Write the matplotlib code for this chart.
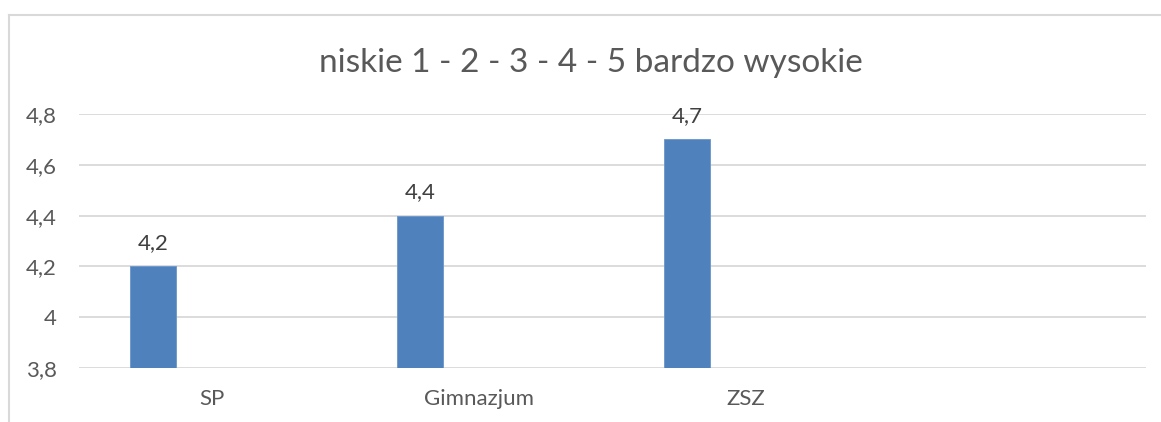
import matplotlib
matplotlib.use("Agg")
import matplotlib.pyplot as plt
from matplotlib.lines import Line2D
from matplotlib.ticker import FuncFormatter
import numpy as np

categories = ["SP", "Gimnazjum", "ZSZ", ""]
values = [4.2, 4.4, 4.7]
title = "niskie 1 - 2 - 3 - 4 - 5 bardzo wysokie"

plt.rcParams['font.family'] = ['Lato', 'DejaVu Sans']

W, H = 1161, 422
fig = plt.figure(figsize=(W / 100, H / 100), dpi=100)
ax = fig.add_axes([79 / W, 1 - 368 / H, (1146 - 79) / W, (368 - 114) / H])

bar_w = 0.172
offset = -0.221
x = np.arange(len(values)) + offset
bars = ax.bar(x, values, width=bar_w, bottom=0, color="#4F81BD",
              edgecolor="#6a95c9", linewidth=0.6, zorder=3)

for xi, v in zip(x, values):
    ax.annotate(f"{v:g}".replace(".", ","), (xi, v), xytext=(0, 17),
                textcoords="offset points", ha="center", va="center",
                fontsize=16, color="#404040")

ax.set_xlim(-0.5, len(categories) - 0.5)
ax.set_ylim(3.8, 4.8)
ax.set_yticks(np.arange(3.8, 4.81, 0.2))
ax.yaxis.set_major_formatter(FuncFormatter(lambda v, p: f"{round(v, 1):g}".replace(".", ",")))
ax.set_xticks(np.arange(len(categories)))
ax.set_xticklabels(categories)

ax.grid(axis="y", color="#d9d9d9", linewidth=1.3, zorder=0)
ax.set_axisbelow(True)
for s in ax.spines.values():
    s.set_visible(False)
ax.tick_params(axis="both", length=0, colors="#595959", labelsize=16)
ax.tick_params(axis="y", pad=16)
ax.tick_params(axis="x", pad=15)

fig.text(591 / W, 1 - 63 / H, title, ha="center", va="center",
         fontsize=24, color="#595959")

# chart border (only top and left visible in crop)
fig.add_artist(Line2D([8.5 / W, 8.5 / W], [0, 1 - 14.5 / H], color="#d9d9d9", linewidth=1.5))
fig.add_artist(Line2D([8.5 / W, 1], [1 - 14.5 / H, 1 - 14.5 / H], color="#d9d9d9", linewidth=1.5))

fig.savefig("out.png", dpi=100, facecolor="white")
